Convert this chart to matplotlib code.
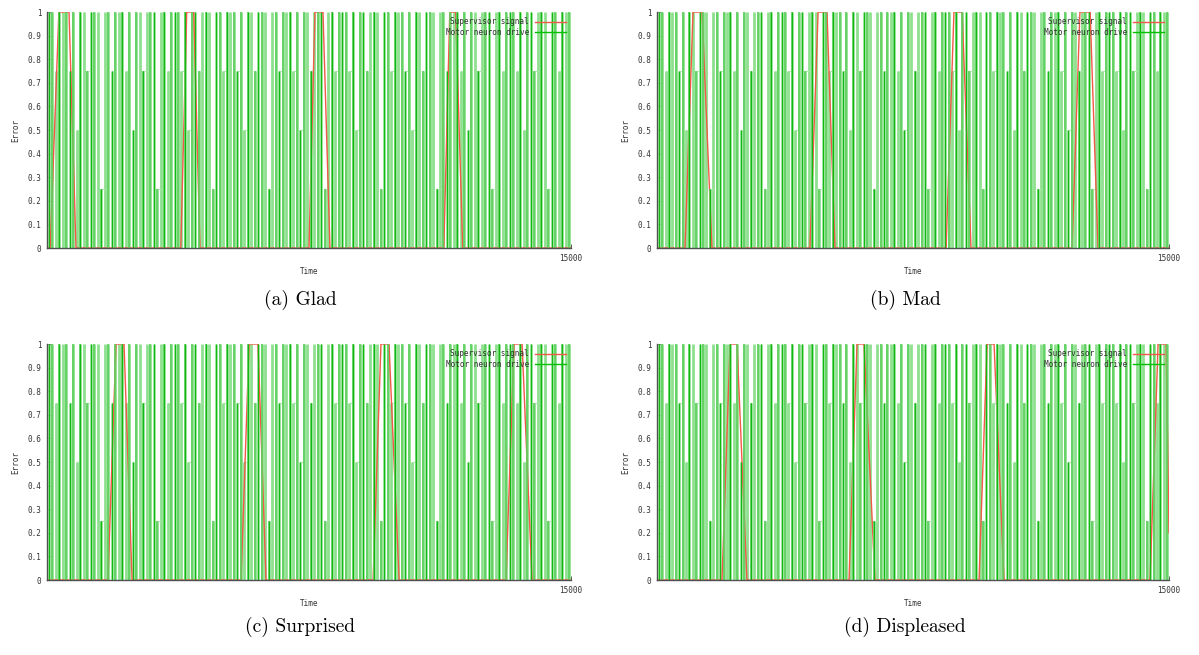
import matplotlib
matplotlib.use("Agg")
import matplotlib.pyplot as plt
import numpy as np

# panel captions
captions = ["(a) Glad", "(b) Mad", "(c) Surprised", "(d) Displeased"]

# motor neuron drive: one level per column (4 = 1.0, 3 = 0.75, 2 = 0.5, 1 = 0.25)
drive_levels = (
    "4434443424434441443444342443444144344434244344414434443424434441"
    "4434443424434441443444342443444144344434244344414434443424434441"
    "4434443424434441443444"
)
drive_step = 100  # time between columns

# supervisor signal per panel: (time, value) break points
sup_a_t = [0, 90, 340, 630, 830, 3830, 4000, 4200, 4380, 7500, 7670, 7900, 8100,
           11360, 11530, 11700, 11900, 15000]
sup_a_v = [0, 0, 1, 1, 0, 0, 1, 1, 0, 0, 1, 1, 0, 0, 1, 1, 0, 0]

sup_b_t = [0, 820, 1055, 1320, 1610, 4480, 4720, 4980, 5215, 8470, 8700, 8940, 9200,
           12160, 12390, 12690, 12920, 15000]
sup_b_v = [0, 0, 1, 1, 0, 0, 1, 1, 0, 0, 1, 1, 0, 0, 1, 1, 0, 0]

sup_c_t = [0, 1745, 1975, 2205, 2435, 5555, 5785, 6040, 6270, 9335, 9560, 9790, 10080,
           13140, 13370, 13600, 13885, 15000]
sup_c_v = [0, 0, 1, 1, 0, 0, 1, 1, 0, 0, 1, 1, 0, 0, 1, 1, 0, 0]

sup_d_t = [0, 1905, 2140, 2345, 2635, 5625, 5860, 6065, 6385, 9435, 9670, 9875, 10165,
           14445, 14680, 14915, 15000]
sup_d_v = [0, 0, 1, 1, 0, 0, 1, 1, 0, 0, 1, 1, 0, 0, 1, 1, 0.2]

supervisor = [(sup_a_t, sup_a_v), (sup_b_t, sup_b_v), (sup_c_t, sup_c_v), (sup_d_t, sup_d_v)]

y_ticks = [0, 0.1, 0.2, 0.3, 0.4, 0.5, 0.6, 0.7, 0.8, 0.9, 1]
y_tick_labels = ["0", "0.1", "0.2", "0.3", "0.4", "0.5", "0.6", "0.7", "0.8", "0.9", "1"]

W, H = 1199, 655
fig = plt.figure(figsize=(W / 100, H / 100), dpi=100)

# axes boxes in pixels: left, top, right, bottom
boxes = [(47, 12, 571, 248), (657, 12, 1169, 248), (47, 344, 571, 580), (657, 344, 1169, 580)]
cap_pos = [(300, 300), (905, 300), (300, 627), (905, 627)]

red = "#f05a46"
mono = "DejaVu Sans Mono"

levels = np.array([int(c) for c in drive_levels]) / 4.0
times = np.arange(len(levels)) * drive_step + 50

for i, (l, t, r, b) in enumerate(boxes):
    ax = fig.add_axes([l / W, 1 - b / H, (r - l) / W, (b - t) / H])

    st, sv = supervisor[i]
    ax.plot(st, sv, color=red, lw=1.0, zorder=2.2, label="Supervisor signal")

    # wide light columns, mid columns over the red, thin dark lines on top
    ax.vlines(times, 0, levels, colors="#8ee08e", lw=2.0, zorder=2)
    ax.vlines(times[1::2], 0, levels[1::2], colors="#5fd05f", lw=1.2, zorder=2.4)
    ax.vlines(times[::3], 0, levels[::3], colors="#10b810", lw=0.7, zorder=3)
    # caps where drive holds a lower level
    for k in range(len(levels) - 1):
        if levels[k] < 1:
            ax.plot([times[k], times[k + 1]], [levels[k], levels[k]],
                    color="#a8e8a8", lw=0.8, zorder=2)
    ax.plot([], [], color="#00c000", lw=1.0, label="Motor neuron drive")

    ax.set_xlim(0, 15000)
    ax.set_ylim(0, 1)
    ax.set_xticks([15000])
    ax.set_xticklabels(["15000"], fontfamily=mono, fontsize=5.5, color="#333333")
    ax.set_yticks(y_ticks)
    ax.set_yticklabels(y_tick_labels, fontfamily=mono, fontsize=5.5, color="#333333")
    ax.tick_params(direction="in", length=3, width=0.6, color="#404040", pad=4)
    ax.set_xlabel("Time", fontfamily=mono, fontsize=5.5, color="#333333", labelpad=3)
    ax.set_ylabel("Error", fontfamily=mono, fontsize=5.5, color="#333333", labelpad=5)
    for s in ["top", "right"]:
        ax.spines[s].set_visible(False)
    for s in ["left", "bottom"]:
        ax.spines[s].set_color("#505050")
        ax.spines[s].set_linewidth(1.0)
        ax.spines[s].set_zorder(5)

    leg = ax.legend(loc="upper right", frameon=False, markerfirst=False,
                    prop={"family": mono, "size": 5.5}, handlelength=4,
                    borderaxespad=0.3, labelspacing=0.2)
    for txt in leg.get_texts():
        txt.set_color("#333333")
        txt.set_ha("right")

    cx, cy = cap_pos[i]
    fig.text(cx / W, 1 - cy / H, captions[i], ha="center", va="center",
             fontfamily="cmr10", fontsize=14)

fig.savefig("out.png", dpi=100)
